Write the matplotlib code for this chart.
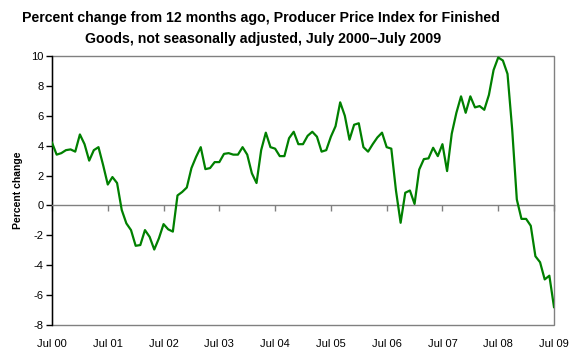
import numpy as np
import matplotlib
matplotlib.use('Agg')
import matplotlib.pyplot as plt

plt.rcParams['font.family'] = ['Liberation Sans', 'DejaVu Sans']

# Monthly 12-month percent change, Jul 2000 .. Jul 2009
ppi_change = [
    4.2, 3.4, 3.5, 3.7, 3.75, 3.6,            # Jul-Dec 00
    4.75, 4.1, 3.0, 3.7, 3.9, 2.7,            # Jan-Jun 01
    1.4, 1.9, 1.5, -0.3, -1.2, -1.65,         # Jul-Dec 01
    -2.7, -2.65, -1.65, -2.1, -2.95, -2.2,    # Jan-Jun 02
    -1.25, -1.6, -1.75, 0.67, 0.9, 1.2,       # Jul-Dec 02
    2.5, 3.25, 3.9, 2.43, 2.5, 2.9,           # Jan-Jun 03
    2.9, 3.45, 3.5, 3.4, 3.4, 3.9,            # Jul-Dec 03
    3.4, 2.15, 1.5, 3.7, 4.87, 3.9,           # Jan-Jun 04
    3.8, 3.3, 3.3, 4.5, 4.93, 4.1,            # Jul-Dec 04
    4.1, 4.66, 4.93, 4.6, 3.6, 3.7,           # Jan-Jun 05
    4.6, 5.3, 6.9, 6.0, 4.4, 5.4,             # Jul-Dec 05
    5.5, 3.9, 3.6, 4.1, 4.55, 4.87,           # Jan-Jun 06
    3.9, 3.8, 1.0, -1.16, 0.85, 1.0,          # Jul-Dec 06
    0.1, 2.4, 3.1, 3.15, 3.86, 3.3,           # Jan-Jun 07
    4.1, 2.3, 4.8, 6.2, 7.3, 6.2,             # Jul-Dec 07
    7.3, 6.56, 6.65, 6.4, 7.4, 9.06,          # Jan-Jun 08
    9.9, 9.7, 8.8, 5.1, 0.4, -0.9,            # Jul-Dec 08
    -0.9, -1.36, -3.4, -3.8, -4.95, -4.7,     # Jan-Jun 09
    -6.8,                                     # Jul 09
]
months = np.arange(len(ppi_change))

tick_labels = ['Jul 00', 'Jul 01', 'Jul 02', 'Jul 03', 'Jul 04',
               'Jul 05', 'Jul 06', 'Jul 07', 'Jul 08', 'Jul 09']
y_ticks = [-8, -6, -4, -2, 0, 2, 4, 6, 8, 10]

title_lines = ['Percent change from 12 months ago, Producer Price Index for Finished',
               'Goods, not seasonally adjusted, July 2000\u2013July 2009']

fig = plt.figure(figsize=(5.8, 3.6), dpi=100)
ax = fig.add_axes([52 / 580, 35 / 360, 502 / 580, 269 / 360])

ax.plot(months, ppi_change, color='#008000', linewidth=1.6, zorder=3)

ax.set_xlim(0, len(ppi_change) - 1)
ax.set_ylim(-8, 10)

# frame of the plot area
ax.patch.set_edgecolor('#808080')
ax.patch.set_linewidth(1.0)
for s in ['top', 'right']:
    ax.spines[s].set_visible(False)
ax.spines['left'].set_color('black')
ax.spines['left'].set_linewidth(1.0)
ax.spines['bottom'].set_position(('data', 0))
ax.spines['bottom'].set_color('#808080')
ax.spines['bottom'].set_linewidth(1.0)

ax.set_yticks(y_ticks)
ax.set_yticklabels([str(v) for v in y_ticks], fontsize=8)
ax.tick_params(axis='y', direction='out', length=4, width=1, color='black', pad=2)

ax.set_xticks(months[::12])
ax.set_xticklabels(tick_labels, fontsize=8)
ax.tick_params(axis='x', direction='out', length=4, width=1, color='#808080', pad=92)

ax.set_ylabel('Percent change', fontsize=7.5, fontweight='bold', labelpad=6)

fig.text(261 / 580, 1 - 18 / 360, title_lines[0],
         ha='center', va='center', fontsize=10.2, fontweight='bold')
fig.text(263 / 580, 1 - 39.5 / 360, title_lines[1],
         ha='center', va='center', fontsize=10.2, fontweight='bold')

fig.savefig('out.png', dpi=100)
